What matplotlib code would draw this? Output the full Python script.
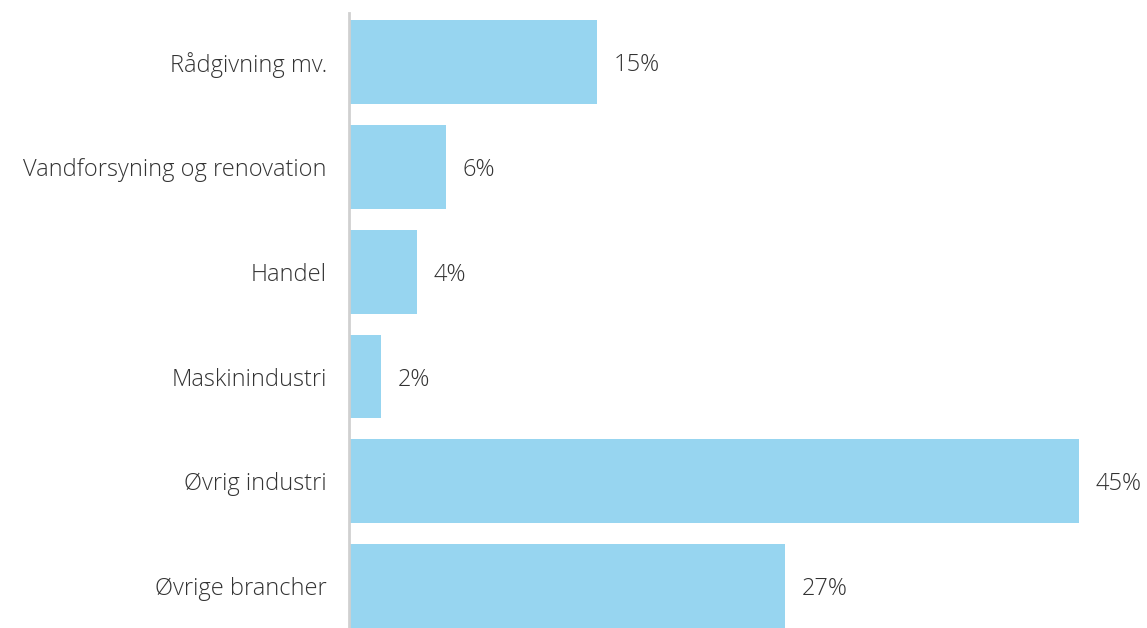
import matplotlib
matplotlib.use("Agg")
import matplotlib.pyplot as plt

categories = ["Rådgivning mv.", "Vandforsyning og renovation", "Handel",
              "Maskinindustri", "Øvrig industri", "Øvrige brancher"]
values = [15.3, 6.0, 4.2, 2.0, 45.0, 26.9]
labels = ["15%", "6%", "4%", "2%", "45%", "27%"]

plt.rcParams['font.family'] = ['Open Sans', 'DejaVu Sans']

fig = plt.figure(figsize=(11.47, 6.28), dpi=100)
ax = fig.add_axes([349/1147, 0.0, (1079-349)/1147, (628-13)/628])

y = list(range(len(categories)))
ax.barh(y, values, height=0.8, color="#97D5F0")
ax.set_ylim(5.40, -0.47)
ax.set_xlim(0, 45.0)

for yi, v, lab in zip(y, values, labels):
    ax.text(v + 1.0, yi, lab, va="center_baseline", ha="left", fontsize=17,
            color="#333333", fontweight="light")

ax.set_yticks(y)
ax.set_yticklabels(categories, fontsize=17, color="#333333", fontweight="light",
                   va="center_baseline")
ax.tick_params(axis="y", length=0, pad=16)
ax.set_xticks([])
for s in ["top", "right", "bottom"]:
    ax.spines[s].set_visible(False)
ax.spines["left"].set_color("#D0D0D0")
ax.spines["left"].set_linewidth(2)

fig.savefig("out.png", dpi=100)
